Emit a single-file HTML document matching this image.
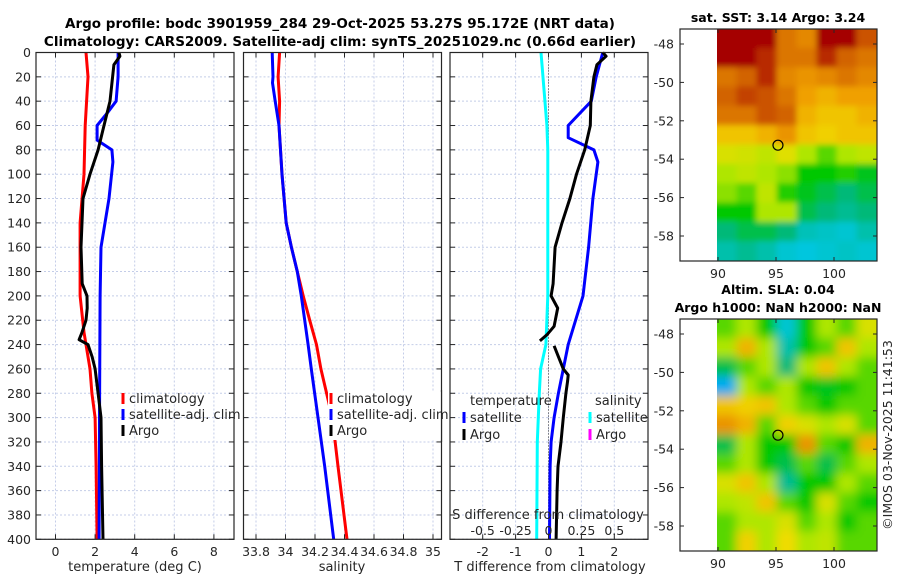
<!DOCTYPE html>
<html><head><meta charset="utf-8"><style>
html,body{margin:0;padding:0;background:#fff;}
svg{display:block;font-family:"DejaVu Sans","Liberation Sans",sans-serif;}
</style></head><body>
<svg id="fig" width="900" height="580" viewBox="0 0 900 580">
<text x="340" y="28" text-anchor="middle" font-weight="bold" font-size="13.5">Argo profile: bodc 3901959_284 29-Oct-2025 53.27S 95.172E (NRT data)</text>
<text x="340" y="46" text-anchor="middle" font-weight="bold" font-size="13.5">Climatology: CARS2009. Satellite-adj clim: synTS_20251029.nc (0.66d earlier)</text>
<g id="plots"></g>
<text x="135" y="571" text-anchor="middle" font-size="13" fill="#262626">temperature (deg C)</text>
<text x="342" y="571" text-anchor="middle" font-size="13" fill="#262626">salinity</text>
<text x="550" y="571" text-anchor="middle" font-size="13" fill="#262626">T difference from climatology</text>
<text x="548" y="519" text-anchor="middle" font-size="13" fill="#262626">S difference from climatology</text>
<text x="778" y="22" text-anchor="middle" font-weight="bold" font-size="12.5">sat. SST: 3.14 Argo: 3.24</text>
<text x="778" y="294" text-anchor="middle" font-weight="bold" font-size="12.5">Altim. SLA: 0.04</text>
<text x="778" y="312" text-anchor="middle" font-weight="bold" font-size="12.5">Argo h1000: NaN h2000: NaN</text>
<text transform="translate(892,435) rotate(-90)" text-anchor="middle" font-size="12.5" fill="#262626">©IMOS 03-Nov-2025 11:41:53</text>
</svg>
<script>
// ---- depth axis data ----
const depthTicks = [0,20,40,60,80,100,120,140,160,180,200,220,240,260,280,300,320,340,360,380,400];
// Temperature panel
const tempTicks = [0,2,4,6,8];
const tClimDepth = [0,20,60,100,140,200,230,260,280,300,340,400];
const tClimVal   = [1.54,1.64,1.5,1.44,1.24,1.24,1.44,1.74,1.84,2.0,2.05,2.1];
const tSatDepth = [0,20,40,50,60,72,80,90,120,160,200,300,400];
const tSatVal   = [3.16,3.16,3.06,2.6,2.1,2.1,2.85,2.9,2.7,2.3,2.25,2.22,2.2];
const tArgoDepth = [0,3,10,40,60,80,100,120,160,190,200,210,220,230,236,240,250,260,280,300,340,400];
const tArgoVal   = [3.2,3.25,2.95,2.75,2.45,2.15,1.74,1.39,1.29,1.35,1.59,1.6,1.54,1.34,1.19,1.64,1.85,2.0,2.15,2.3,2.33,2.4];
// Salinity panel
const salTicks = [33.8,34,34.2,34.4,34.6,34.8,35];
const salTickLabels = ["33.8","34","34.2","34.4","34.6","34.8","35"];
const sClimDepth = [0,20,40,60,100,140,160,180,200,220,240,260,300,340,400];
const sClimVal   = [33.96,33.95,33.96,33.956,33.976,34.005,34.04,34.08,34.12,34.164,34.21,34.24,34.317,34.356,34.417];
const sSatDepth = [0,20,25,40,60,100,140,160,180,200,220,240,260,300,340,400];
const sSatVal   = [33.91,33.915,33.912,33.93,33.956,33.976,34.005,34.04,34.08,34.107,34.13,34.153,34.175,34.22,34.266,34.327];
// Difference panel
const dTicks = [-2,-1,0,1,2];
const sdTicks = [-0.5,-0.25,0,0.25,0.5];
const sdTickLabels = ["-0.5","-0.25","0","0.25","0.5"];
const dSatDepth = [0,20,40,60,70,80,90,120,160,200,240,260,280,300,320,340,400];
const dSatVal   = [1.65,1.45,1.3,0.6,0.6,1.38,1.5,1.35,1.22,1.05,0.6,0.45,0.3,0.17,0.08,0.05,0.03];
const dArgoDepth1 = [0,3,10,20,40,60,80,100,120,140,160,190,200,210,225,232,237];
const dArgoVal1   = [1.65,1.75,1.47,1.38,1.29,1.27,1.1,0.85,0.65,0.41,0.2,0.14,0.08,0.28,0.17,-0.05,-0.26];
const dArgoDepth2 = [241,250,260,265,270,280,300,320,340,360,400];
const dArgoVal2   = [0.17,0.3,0.45,0.6,0.58,0.53,0.45,0.38,0.29,0.26,0.23];
const sdDepth = [0,60,80,200,240,260,280,320,400];
const sdVal   = [-0.057,-0.012,-0.005,-0.005,-0.02,-0.06,-0.07,-0.085,-0.09];
// Maps
const lonTicks = [90,95,100];
const latTicks = [-48,-50,-52,-54,-56,-58];
const argoLon = 95.17, argoLat = -53.27;
const sstGrid = [
 [1,1,1,0.85,0.82,1,1,0.9],
 [1,1,0.95,0.85,0.85,0.95,0.88,0.85],
 [0.85,0.88,0.95,0.82,0.8,0.82,0.85,0.82],
 [0.88,0.92,0.9,0.85,0.78,0.75,0.78,0.78],
 [0.85,0.85,0.9,0.88,0.75,0.72,0.72,0.75],
 [0.72,0.72,0.75,0.8,0.72,0.7,0.72,0.72],
 [0.65,0.64,0.62,0.66,0.6,0.55,0.6,0.62],
 [0.6,0.62,0.6,0.58,0.5,0.5,0.52,0.48],
 [0.58,0.55,0.62,0.52,0.48,0.45,0.42,0.45],
 [0.5,0.5,0.6,0.6,0.45,0.42,0.4,0.42],
 [0.42,0.45,0.45,0.42,0.37,0.36,0.35,0.38],
 [0.38,0.4,0.38,0.35,0.34,0.35,0.36,0.35]];
const slaGrid = [
 [0.55,0.6,0.5,0.35,0.5,0.6,0.55,0.65],
 [0.6,0.75,0.6,0.38,0.5,0.55,0.72,0.6],
 [0.45,0.55,0.6,0.42,0.6,0.72,0.6,0.55],
 [0.3,0.6,0.55,0.6,0.5,0.48,0.5,0.55],
 [0.72,0.7,0.72,0.6,0.55,0.5,0.55,0.55],
 [0.8,0.75,0.55,0.7,0.65,0.6,0.65,0.55],
 [0.45,0.6,0.5,0.5,0.8,0.55,0.5,0.75],
 [0.55,0.6,0.5,0.45,0.55,0.45,0.55,0.6],
 [0.65,0.72,0.6,0.4,0.5,0.5,0.6,0.55],
 [0.6,0.62,0.72,0.55,0.5,0.65,0.55,0.5],
 [0.55,0.6,0.6,0.65,0.55,0.6,0.5,0.55],
 [0.55,0.7,0.6,0.68,0.6,0.62,0.55,0.55]];

const NS="http://www.w3.org/2000/svg";
const root=document.getElementById('plots');
function el(tag,attrs,parent){const e=document.createElementNS(NS,tag);for(const k in attrs)e.setAttribute(k,attrs[k]);(parent||root).appendChild(e);return e;}
const TOP=52.5, BOT=539.3;
const yD=d=>TOP+(BOT-TOP)*d/400;
const GRID="#c4cde8";

function panel(name,x0,x1,xs,ticks){
  const g=el('g',{});
  
  
  ticks.forEach(v=>{el('line',{x1:xs(v),x2:xs(v),y1:TOP,y2:BOT,stroke:GRID,'stroke-width':1,'stroke-dasharray':'2,2'},g);});
  depthTicks.forEach(d=>{el('line',{x1:x0,x2:x1,y1:yD(d),y2:yD(d),stroke:GRID,'stroke-width':1,'stroke-dasharray':'2,2'},g);});
  return g;
}
function frame(g,x0,x1,xs,ticks,labels,leftLabels){
  el('rect',{x:x0,y:TOP,width:x1-x0,height:BOT-TOP,fill:'none',stroke:'#262626','stroke-width':1.2},g);
  depthTicks.forEach(d=>{
    el('line',{x1:x0,x2:x0+5,y1:yD(d),y2:yD(d),stroke:'#262626'},g);
    el('line',{x1:x1-5,x2:x1,y1:yD(d),y2:yD(d),stroke:'#262626'},g);
    if(leftLabels){const t=el('text',{x:x0-5,y:yD(d)+4.5,'text-anchor':'end','font-size':12.5,fill:'#262626'},g);t.textContent=d;
      }
  });
  ticks.forEach((v,i)=>{
    el('line',{x1:xs(v),x2:xs(v),y1:BOT,y2:BOT-5,stroke:'#262626'},g);
    el('line',{x1:xs(v),x2:xs(v),y1:TOP,y2:TOP+5,stroke:'#262626'},g);
    const t=el('text',{x:xs(v),y:556,'text-anchor':'middle','font-size':12.5,fill:'#262626'},g);t.textContent=labels[i];
    
  });
}
function line(g,xs,depths,vals,color,name,w){
  const p=depths.map((d,i)=>(i?'L':'M')+xs(vals[i]).toFixed(1)+','+yD(d).toFixed(1)).join('');
  const e=el('path',{d:p,fill:'none',stroke:color,'stroke-width':w||3,'stroke-linejoin':'round'},g);
  
  
}
function legend(g,x,y,color,label,name){
  el('rect',{x:x-1.5,y:y-9,width:3,height:11,fill:color},g);
  const t=el('text',{x:x+6,y:y+1,'font-size':13,fill:'#262626'},g);t.textContent=label;
  
}

// Panel 1 temperature
const xT=v=>55.5+19.8*v;
let g1=panel('temperature-panel',36,234,xT,tempTicks);
line(g1,xT,tClimDepth,tClimVal,'#ff0000','temp-climatology-line');
line(g1,xT,tSatDepth,tSatVal,'#0000ff','temp-satellite-line');
line(g1,xT,tArgoDepth,tArgoVal,'#000000','temp-argo-line');
frame(g1,36,234,xT,tempTicks,tempTicks.map(String),true);
legend(g1,123,402,'#ff0000','climatology','legend-climatology');
legend(g1,123,418,'#0000ff','satellite-adj. clim','legend-satellite');
legend(g1,123,434,'#000000','Argo','legend-argo');

// Panel 2 salinity
const xS=v=>256+147.5*(v-33.8);
let g2=panel('salinity-panel',243.5,441.5,xS,salTicks);
line(g2,xS,sClimDepth,sClimVal,'#ff0000','sal-climatology-line');
line(g2,xS,sSatDepth,sSatVal,'#0000ff','sal-satellite-line');
frame(g2,243.5,441.5,xS,salTicks,salTickLabels,false);
const g2l=el('g',{});

el('rect',{x:328,y:392,width:113,height:48,fill:'#fff'},g2l);
legend(g2l,331,402,'#ff0000','climatology','legend-climatology');
legend(g2l,331,418,'#0000ff','satellite-adj. clim','legend-satellite');
legend(g2l,331,434,'#000000','Argo','legend-argo');
el('line',{x1:441.5,x2:441.5,y1:390,y2:442,stroke:'#262626','stroke-width':1.2},g2l);

// Panel 3 difference
const xD=v=>548.5+32.9*v;
const xSD=v=>548.5+131.6*v;
let g3=panel('difference-panel',450,648,xD,dTicks);
el('line',{x1:xD(0),x2:xD(0),y1:TOP,y2:BOT,stroke:'#333','stroke-width':1,'stroke-dasharray':'1,2'},g3);
line(g3,xSD,sdDepth,sdVal,'#00ffff','sal-diff-satellite-line');
line(g3,xD,dSatDepth,dSatVal,'#0000ff','temp-diff-satellite-line');
line(g3,xD,dArgoDepth1,dArgoVal1,'#000000','temp-diff-argo-line-upper');
line(g3,xD,dArgoDepth2,dArgoVal2,'#000000','temp-diff-argo-line-lower');
frame(g3,450,648,xD,dTicks,dTicks.map(String),false);
sdTicks.forEach((v,i)=>{const t=el('text',{x:xSD(v),y:535,'text-anchor':'middle','font-size':12.5,fill:'#262626'},g3);t.textContent=sdTickLabels[i];
  });
let th=el('text',{x:470,y:405,'font-size':13,fill:'#262626'},g3);th.textContent='temperature';

let sh=el('text',{x:595,y:405,'font-size':13,fill:'#262626'},g3);sh.textContent='salinity';

legend(g3,464,421,'#0000ff','satellite','legend-temp-satellite');
legend(g3,464,438,'#000000','Argo','legend-temp-argo');
legend(g3,590,421,'#00ffff','satellite','legend-sal-satellite');
legend(g3,590,438,'#ff00ff','Argo','legend-sal-argo');

// Maps: colour palette stops
const cmapPos = [0.2,0.33,0.42,0.5,0.6,0.68,0.78,0.88,1.0];
const cmapCol = [[0,80,255],[0,200,235],[0,185,120],[0,200,0],[175,230,0],[240,220,0],[240,160,0],[210,100,0],[165,0,0]];
function cmap(v){
  if(v<=cmapPos[0])return 'rgb('+cmapCol[0].join(',')+')';
  for(let i=1;i<cmapPos.length;i++){
    if(v<=cmapPos[i]){const f=(v-cmapPos[i-1])/(cmapPos[i]-cmapPos[i-1]);
      const c=cmapCol[i-1].map((a,k)=>Math.round(a+(cmapCol[i][k]-a)*f));return 'rgb('+c.join(',')+')';}
  }
  return 'rgb('+cmapCol[cmapCol.length-1].join(',')+')';
}
function map(name,y0,grid,blur){
  const x0=680,x1=877,y1=y0+232;
  const lonX=l=>718+11.6*(l-90);
  const latY=l=>(y0+15)+19.2*(-48-l);
  const g=el('g',{});
  
  const cid='clip'+y0;
  const defs=el('defs',{},g);
  const cp=el('clipPath',{id:cid},defs);
  el('rect',{x:717,y:y0,width:x1-717,height:232},cp);
  if(blur){const f=el('filter',{id:'bl'+y0,x:'-10%',y:'-10%',width:'120%',height:'120%'},defs);el('feGaussianBlur',{stdDeviation:blur},f);}
  const cg=el('g',{'clip-path':'url(#'+cid+')'},g);
  const ig=el('g',blur?{filter:'url(#bl'+y0+')'}:{},cg);
  const rows=grid.length,cols=grid[0].length,cw=(x1-717)/cols,rh=232/rows;
  grid.forEach((row,r)=>row.forEach((v,ci)=>{
    const cell=el('rect',{x:717+ci*cw-0.5-(ci===0?10:0),y:y0+r*rh-0.5-(r===0?10:0),width:cw+1+(ci===0?10:0)+(ci===cols-1?10:0),height:rh+1+(r===0?10:0)+(r===rows-1?10:0),fill:cmap(v)},ig);
    
    
  }));
  el('rect',{x:x0,y:y0,width:x1-x0,height:232,fill:'none',stroke:'#262626','stroke-width':1.2},g);
  lonTicks.forEach(l=>{
    el('line',{x1:lonX(l),x2:lonX(l),y1:y1,y2:y1-4,stroke:'#262626'},g);
    el('line',{x1:lonX(l),x2:lonX(l),y1:y0,y2:y0+4,stroke:'#262626'},g);
    const t=el('text',{x:lonX(l),y:y1+17,'text-anchor':'middle','font-size':12.5,fill:'#262626'},g);t.textContent=l;
    
  });
  latTicks.forEach(l=>{
    el('line',{x1:x0,x2:x0+4,y1:latY(l),y2:latY(l),stroke:'#262626'},g);
    el('line',{x1:x1-4,x2:x1,y1:latY(l),y2:latY(l),stroke:'#262626'},g);
    const t=el('text',{x:x0-6,y:latY(l)+4.5,'text-anchor':'end','font-size':12.5,fill:'#262626'},g);t.textContent=l;
    
  });
  const m=el('circle',{cx:lonX(argoLon),cy:latY(argoLat),r:5,fill:'none',stroke:'#000','stroke-width':1.2},g);
  
  
}
map('sst-map',29,sstGrid,3);
map('sla-map',319,slaGrid,5);
</script>
</body></html>
